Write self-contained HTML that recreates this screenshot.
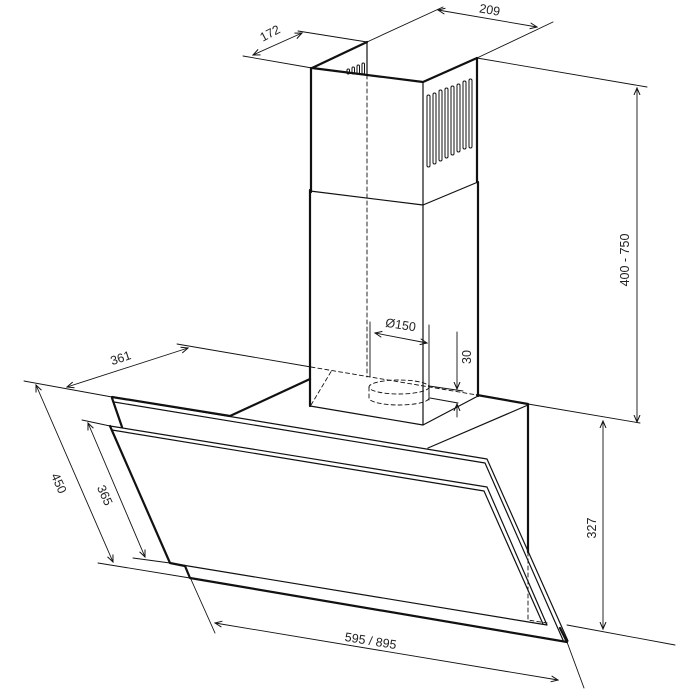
<!DOCTYPE html>
<html><head><meta charset="utf-8"><style>
html,body{margin:0;padding:0;background:#fff;}
svg{display:block}
text{font-family:"Liberation Sans",sans-serif;font-size:12.5px;fill:#222}
</style></head><body>
<svg width="700" height="700" viewBox="0 0 700 700" xmlns="http://www.w3.org/2000/svg">
<defs>
<marker id="a" markerWidth="8" markerHeight="8" refX="7" refY="4" orient="auto-start-reverse" markerUnits="userSpaceOnUse">
<path d="M0,1 L7,4 L0,7" fill="none" stroke="#111" stroke-width="1"/>
</marker>
</defs>
<g stroke="#111" fill="none" stroke-linecap="round" stroke-linejoin="round">
<g stroke-width="0.9">
<line x1="243" y1="56" x2="312" y2="68"/>
<line x1="298" y1="31" x2="367" y2="42"/>
<line x1="367" y1="42" x2="443" y2="7"/>
<line x1="477" y1="58" x2="553" y2="22"/>
<line x1="477" y1="58" x2="647" y2="87"/>
<line x1="528" y1="404" x2="640" y2="423"/>
<line x1="567" y1="625" x2="675" y2="645"/>
<line x1="177" y1="344" x2="311" y2="367"/>
<line x1="24" y1="381" x2="112" y2="397"/>
<line x1="82" y1="420" x2="110" y2="426"/>
<line x1="133" y1="558" x2="170" y2="563"/>
<line x1="98" y1="563" x2="190" y2="578"/>
<line x1="185" y1="566" x2="215" y2="633"/>
<line x1="567" y1="642" x2="584" y2="688"/>
<line x1="370" y1="322" x2="370" y2="377"/>
<line x1="429" y1="325" x2="429" y2="400"/>
<line x1="429" y1="386" x2="463" y2="391"/>
<line x1="430" y1="398" x2="458" y2="403"/>
</g>
<g stroke-width="0.9" marker-start="url(#a)" marker-end="url(#a)">
<line x1="253" y1="55" x2="302" y2="33"/>
<line x1="438" y1="10" x2="537" y2="27"/>
<line x1="637" y1="88" x2="637" y2="422"/>
<line x1="603" y1="421" x2="603" y2="629"/>
<line x1="67" y1="387" x2="188" y2="348"/>
<line x1="36" y1="385" x2="113" y2="562"/>
<line x1="88" y1="423" x2="145" y2="557"/>
<line x1="215" y1="623" x2="558" y2="680"/>
<line x1="375" y1="333" x2="427" y2="343"/>
</g>
<line x1="457" y1="332" x2="457" y2="389" stroke-width="0.9" marker-end="url(#a)"/>
<line x1="457" y1="417" x2="457" y2="404" stroke-width="0.9" marker-end="url(#a)"/>
<g stroke-width="0.9" stroke-dasharray="4,3">
<line x1="367" y1="75" x2="367" y2="377"/>
<line x1="311" y1="367" x2="477" y2="395"/>
<line x1="311" y1="405" x2="332" y2="370"/>
<ellipse cx="399" cy="387" rx="30" ry="7"/>
<path d="M369,387 V398 A30,7 0 0 0 429,398 V387"/>
<path d="M528,552 V620 L547,623"/>
</g>
<g stroke-width="2.2">
<path d="M312,68 L367,42 M312,68 L423,82 L477,58"/>
<line x1="311" y1="68" x2="311" y2="192"/>
<line x1="477" y1="58" x2="477" y2="182"/>
<line x1="310" y1="190" x2="310" y2="406"/>
<line x1="478" y1="182" x2="478" y2="396"/>
<path d="M477,395 L528,404 L528,552"/>
<path d="M112,397 L230,416 L310,379"/>
<path d="M112,398 L122,427"/>
<path d="M110,426 L170,563 L185,566 L190,578 L567,642 L560,628"/>
</g>
<g stroke-width="1.2">
<line x1="367" y1="42" x2="367" y2="75"/>
<line x1="423" y1="82" x2="423" y2="425"/>
<path d="M310,191 L423,205 L478,182"/>
<path d="M310,406 L423,425 L478,396"/>
<path d="M528,405 L428,448"/>
<path d="M112,397 L487,459 L568,641"/>
<path d="M114,402 L485,463 L563,640"/>
<path d="M110,426 L487,487 L547,625 L170,563"/>
<path d="M112,430 L484,491 L543,624"/>
</g>
<g stroke-width="1">
<rect x="427" y="95" width="3" height="72" rx="1.5"/>
<rect x="433" y="93" width="3" height="71" rx="1.5"/>
<rect x="439" y="90" width="3" height="71" rx="1.5"/>
<rect x="445" y="88" width="3" height="70" rx="1.5"/>
<rect x="451" y="86" width="3" height="69" rx="1.5"/>
<rect x="457" y="84" width="3" height="68" rx="1.5"/>
<rect x="463" y="81" width="3" height="68" rx="1.5"/>
<rect x="469" y="79" width="3" height="69" rx="1.5"/>
<rect x="347" y="69" width="2.5" height="5" rx="1.2"/>
<rect x="352" y="67" width="2.5" height="7" rx="1.2"/>
<rect x="357" y="65" width="2.5" height="9" rx="1.2"/>
<rect x="362" y="63" width="2.5" height="11" rx="1.2"/>
</g>
</g>
<text x="272" y="37" text-anchor="middle" transform="rotate(-28 272 37)">172</text>
<text x="489" y="14" text-anchor="middle" transform="rotate(10 489 14)">209</text>
<text x="629" y="260" text-anchor="middle" transform="rotate(-90 629 260)">400 - 750</text>
<text x="596" y="528" text-anchor="middle" transform="rotate(-90 596 528)">327</text>
<text x="400" y="329" text-anchor="middle" transform="rotate(9 400 329)">Ø150</text>
<text x="471" y="357" text-anchor="middle" transform="rotate(-90 471 357)">30</text>
<text x="122" y="362" text-anchor="middle" transform="rotate(-18 122 362)">361</text>
<text x="55" y="485" text-anchor="middle" transform="rotate(66 55 485)">450</text>
<text x="101" y="497" text-anchor="middle" transform="rotate(66 101 497)">365</text>
<text x="370" y="645" text-anchor="middle" transform="rotate(9 370 645)">595 / 895</text>
</svg>
</body></html>
